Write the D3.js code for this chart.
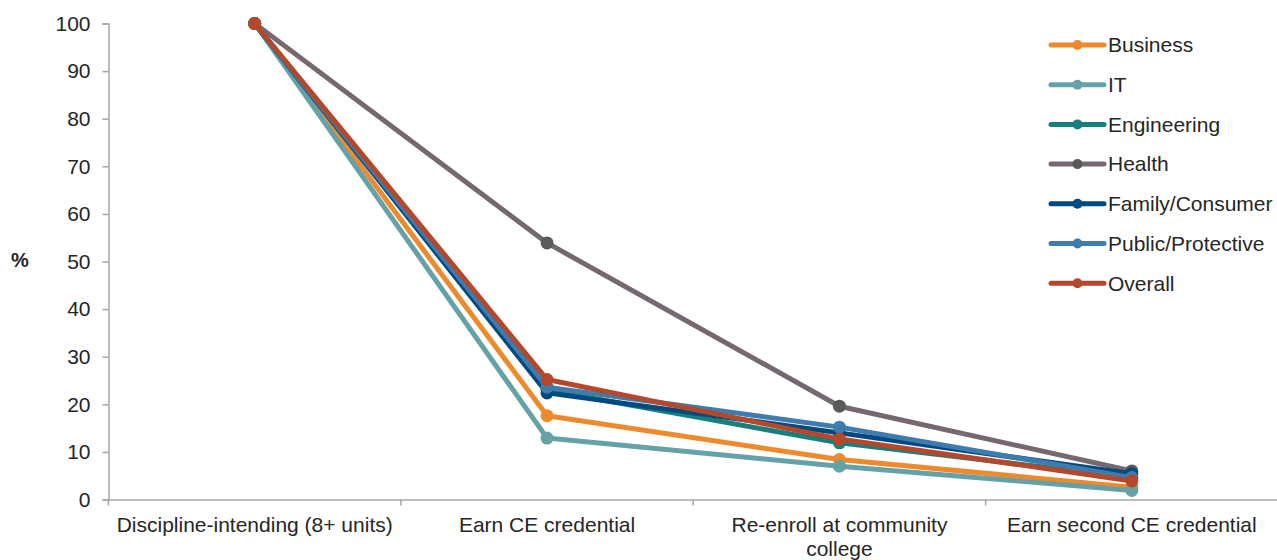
<!DOCTYPE html>
<html><head><meta charset="utf-8">
<script src="https://cdn.jsdelivr.net/npm/d3@7"></script>
<style>body{margin:0;background:#fff}svg{display:block}text{font-family:"Liberation Sans",Arial,sans-serif;fill:#262626}</style>
</head><body><svg id="c" width="1277" height="560"></svg>
<script>
const categories = ["Discipline-intending (8+ units)", "Earn CE credential", "Re-enroll at community college", "Earn second CE credential"];
const seriesNames = ["Business", "IT", "Engineering", "Health", "Family/Consumer", "Public/Protective", "Overall"];
const business = [100, 17.6, 8.4, 2.6];
const it = [100, 12.9, 7.0, 1.9];
const engineering = [100, 23.0, 11.9, 4.6];
const health = [100, 53.9, 19.6, 6.0];
const family = [100, 22.4, 14.0, 5.4];
const publicProt = [100, 23.6, 15.2, 4.6];
const overall = [100, 25.2, 12.7, 3.9];
const yTicks = [0, 10, 20, 30, 40, 50, 60, 70, 80, 90, 100];
const colors = ["#EE8A2B", "#65A2A7", "#16807E", "#756870", "#004A80", "#3F7CAE", "#B5482A"];
const markerColors = ["#EE8A2B", "#65A2A7", "#16807E", "#5A5A5A", "#004A80", "#3F7CAE", "#B5482A"];
const allSeries = [business, it, engineering, health, family, publicProt, overall];

(function () {
const svg = d3.select("#c");
const FS = 21;
const mLeft = 108.5, mRight = 1278, mTop = 23.5, mBottom = 499.5;
const x = d3.scaleBand().domain(categories).range([mLeft, mRight]).padding(0);
const y = d3.scaleLinear().domain([0, 100]).range([mBottom, mTop]);
const axisColor = "#A6A6A6";

const ya = svg.append("g").attr("transform", `translate(${mLeft},0)`)
  .call(d3.axisLeft(y).tickValues(yTicks).tickSize(6).tickPadding(12));
ya.select(".domain").attr("stroke", axisColor).attr("stroke-width", 1.5);
ya.selectAll(".tick line").attr("stroke", axisColor).attr("stroke-width", 1.5);
ya.selectAll(".tick text").attr("font-size", FS).attr("font-family", "Liberation Sans, Arial, sans-serif").attr("fill", "#262626");

const xa = svg.append("g").attr("transform", `translate(0,${mBottom})`)
  .call(d3.axisBottom(x).tickSize(0).tickFormat(""));
xa.select(".domain").attr("stroke", axisColor).attr("stroke-width", 1.5);
const bounds = categories.map(c => x(c)).concat([mRight]);
svg.append("g").selectAll("line").data(bounds).join("line")
  .attr("x1", d => d).attr("x2", d => d).attr("y1", mBottom).attr("y2", mBottom + 6)
  .attr("stroke", axisColor).attr("stroke-width", 1.5);

const wrapLabels = {"Re-enroll at community college": ["Re-enroll at community", "college"]};
categories.forEach(c => {
  const lines = wrapLabels[c] || [c];
  const t = svg.append("text").attr("x", x(c) + x.bandwidth() / 2).attr("y", 532)
    .attr("text-anchor", "middle").attr("font-size", FS);
  lines.forEach((l, i) => t.append("tspan").attr("x", x(c) + x.bandwidth() / 2).attr("dy", i ? 24 : 0).text(l));
});

svg.append("text").attr("x", 20).attr("y", 267).attr("text-anchor", "middle")
  .attr("font-size", FS - 1).attr("font-weight", "bold").text("%");

const cx = c => x(c) + x.bandwidth() / 2;
const line = d3.line().x((d, i) => cx(categories[i])).y(d => y(d));

allSeries.forEach((s, k) => {
  const g = svg.append("g");
  g.append("path").datum(s).attr("d", line).attr("fill", "none")
    .attr("stroke", colors[k]).attr("stroke-width", 5).attr("stroke-linejoin", "round");
  g.selectAll("circle").data(s).join("circle")
    .attr("cx", (d, i) => cx(categories[i])).attr("cy", d => y(d)).attr("r", 6.5)
    .attr("fill", markerColors[k]);
});

const lg = svg.append("g");
seriesNames.forEach((n, k) => {
  const yy = 45 + k * 39.7;
  lg.append("line").attr("x1", 1051).attr("x2", 1104).attr("y1", yy).attr("y2", yy)
    .attr("stroke", colors[k]).attr("stroke-width", 5).attr("stroke-linecap", "round");
  lg.append("circle").attr("cx", 1077.5).attr("cy", yy).attr("r", 5).attr("fill", markerColors[k]);
  lg.append("text").attr("x", 1108).attr("y", yy).attr("dy", "0.35em").attr("font-size", FS).text(n);
});
})();
</script></body></html>
